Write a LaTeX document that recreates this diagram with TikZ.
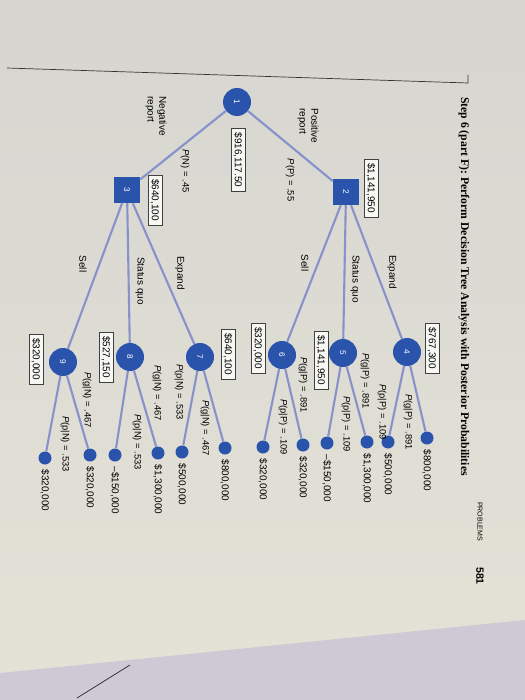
\documentclass[tikz,border=0pt]{standalone}
\usepackage{fontspec}
\setmainfont{Liberation Serif}
\setsansfont{Liberation Sans}
\usetikzlibrary{positioning}

\definecolor{nodeblue}{RGB}{42,84,172}
\definecolor{branchcol}{RGB}{136,146,202}
\definecolor{pagetop}{RGB}{214,213,208}
\definecolor{pagebot}{RGB}{229,227,215}
\definecolor{deskcol}{RGB}{206,202,213}

\tikzset{
  decision/.style={rectangle, fill=nodeblue, minimum size=7.8mm, inner sep=0pt,
    text=white, font=\sffamily\fontsize{7}{8}\selectfont},
  chance/.style={circle, fill=nodeblue, minimum size=8.4mm, inner sep=0pt,
    text=white, font=\sffamily\fontsize{7}{8}\selectfont},
  payoff/.style={circle, fill=nodeblue, minimum size=3.9mm, inner sep=0pt},
  evbox/.style={draw=black!75, fill=white!70!pagebot, thin,
    font=\sffamily\fontsize{8.5}{10}\selectfont, inner xsep=3.5pt, inner ysep=2.5pt},
  branch/.style={draw=branchcol, line width=1.8pt},
  lbl/.style={font=\sffamily\fontsize{8.5}{10}\selectfont, inner sep=1pt},
  prob/.style={font=\sffamily\fontsize{8}{10}\selectfont, inner sep=1pt},
}

\begin{document}
\begin{tikzpicture}[x=0.3mm, y=0.3mm]
\useasboundingbox (0,0) rectangle (525,-700);
% photographed page and the desk under it
\shade[top color=pagetop, bottom color=pagebot] (0,0) rectangle (525,-700);
\fill[deskcol] (0,-673) -- (525,-620) -- (525,-700) -- (0,-700) -- cycle;
\draw[black!85, line width=0.6pt] (77,-698) -- (130,-665);

% the page itself is turned a quarter turn
\begin{scope}[rotate=-90, transform shape]
% heading
\draw[black!80, line width=0.6pt] (68,7) -- (83,468) -- (75,468);
\node[anchor=west, font=\bfseries\fontsize{10}{12}\selectfont] (title) at (93,464)
  {Step 6 (part F): Perform Decision Tree Analysis with Posterior Probabilities};
\node[anchor=west, font=\sffamily\fontsize{6}{7}\selectfont] (problems) at (498,480) {PROBLEMS};
\node[anchor=west, font=\sffamily\bfseries\fontsize{9}{10}\selectfont] (pagenum) at (563,480) {581};

% decision and chance nodes
\node[chance] (n1) at (102,237) {1};
\node[decision] (n2) at (192,346) {2};
\node[decision] (n3) at (190,127) {3};
\node[chance] (n4) at (352,407) {4};
\node[chance] (n5) at (353,343) {5};
\node[chance] (n6) at (355,282) {6};
\node[chance] (n7) at (357,200) {7};
\node[chance] (n8) at (357,130) {8};
\node[chance] (n9) at (362,63) {9};

\draw[branch] (n1) -- (n2);
\draw[branch] (n1) -- (n3);
\foreach \a/\b in {n2/n4, n2/n5, n2/n6, n3/n7, n3/n8, n3/n9}
  \draw[branch] (\a) -- (\b);

% end points with payoffs
\foreach \leaf/\parent/\px/\py/\val in {
  g4/n4/438/427/{\$800,000},  p4/n4/442/388/{\$500,000},
  g5/n5/442/367/{\$1,300,000}, p5/n5/443/327/{–\$150,000},
  g6/n6/445/303/{\$320,000},  p6/n6/447/263/{\$320,000},
  g7/n7/448/225/{\$800,000},  p7/n7/452/182/{\$500,000},
  g8/n8/453/158/{\$1,300,000}, p8/n8/455/115/{–\$150,000},
  g9/n9/455/90/{\$320,000},   p9/n9/458/45/{\$320,000}
}{
  \node[payoff] (\leaf) at (\px,\py) {};
  \draw[branch] (\parent) -- (\leaf);
  \node[lbl, right=3pt] at (\leaf.east) {\val};
}

% expected values
\node[evbox] (ev1) at (160,238) {\$916,117.50};
\node[evbox] (ev2) at (188,371) {\$1,141,950};
\node[evbox] (ev3) at (200,155) {\$640,100};
\node[evbox] (ev4) at (348,432) {\$767,300};
\node[evbox] (ev5) at (360,321) {\$1,141,950};
\node[evbox] (ev6) at (348,258) {\$320,000};
\node[evbox] (ev7) at (354,228) {\$640,100};
\node[evbox] (ev8) at (357,106) {\$527,150};
\node[evbox] (ev9) at (359,36) {\$320,000};

% report branches
\node[lbl, align=left, anchor=west] (posrep) at (107,308) {Positive\\report};
\node[lbl, align=left, anchor=west] (negrep) at (95,156) {Negative\\report};
\node[prob] (pp) at (180,290) {\textit{P}(P) = .55};
\node[prob] (pn) at (171,185) {\textit{P}(N) = .45};

% alternatives
\node[lbl] (exp2) at (272,392) {Expand};
\node[lbl] (sq2) at (279,355) {Status quo};
\node[lbl] (sell2) at (263,305) {Sell};
\node[lbl] (exp3) at (273,180) {Expand};
\node[lbl] (sq3) at (281,140) {Status quo};
\node[lbl] (sell3) at (264,83) {Sell};

% posterior probabilities
\node[prob] (pg4) at (422,408) {\textit{P}(g|P) = .891};
\node[prob] (pp4) at (412,382) {\textit{P}(p|P) = .109};
\node[prob] (pg5) at (381,365) {\textit{P}(g|P) = .891};
\node[prob] (pp5) at (424,346) {\textit{P}(p|P) = .109};
\node[prob] (pg6) at (385,303) {\textit{P}(g|P) = .891};
\node[prob] (pp6) at (427,283) {\textit{P}(p|P) = .109};
\node[prob] (pg7) at (428,205) {\textit{P}(g|N) = .467};
\node[prob] (pp7) at (392,179) {\textit{P}(p|N) = .533};
\node[prob] (pg8) at (393,157) {\textit{P}(g|N) = .467};
\node[prob] (pp8) at (442,137) {\textit{P}(p|N) = .533};
\node[prob] (pg9) at (400,87) {\textit{P}(g|N) = .467};
\node[prob] (pp9) at (444,65) {\textit{P}(p|N) = .533};
\end{scope}
\end{tikzpicture}
\end{document}
